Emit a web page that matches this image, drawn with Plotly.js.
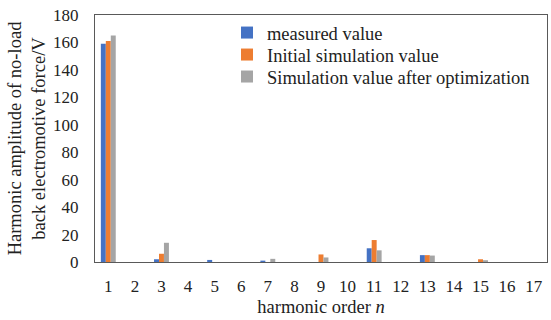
<!DOCTYPE html>
<html>
<head>
<meta charset="utf-8">
<script src="https://cdn.plot.ly/plotly-3.0.1.min.js"></script>
<style>html,body{margin:0;padding:0;background:#fff;}#chart{width:551px;height:320px;}</style>
</head>
<body>
<div id="chart"></div>
<script>
const harmonicOrders = ['1','2','3','4','5','6','7','8','9','10','11','12','13','14','15','16','17'];
const measuredValue = [159, 0, 2, 0, 1.5, 0, 1, 0, 0, 0, 10, 0, 5, 0, 0, 0, 0];
const initialSimulation = [161, 0, 6, 0, 0, 0, 0, 0, 5.5, 0, 16, 0, 5, 0, 2, 0, 0];
const optimizedSimulation = [165, 0, 14, 0, 0, 0, 2.3, 0, 3.3, 0, 8.5, 0, 4.7, 0, 1.3, 0, 0];
const yTicks = [0, 20, 40, 60, 80, 100, 120, 140, 160, 180];

const fam = '"Liberation Serif", "Times New Roman", serif';
const f = (s) => ({family: fam, size: s, color: '#222'});

const traces = [
  {type: 'bar', name: 'measured value', x: harmonicOrders, y: measuredValue, marker: {color: '#4472C4'}, legend: 'legend'},
  {type: 'bar', name: 'Initial simulation value', x: harmonicOrders, y: initialSimulation, marker: {color: '#ED7D31'}, legend: 'legend2'},
  {type: 'bar', name: 'Simulation value after optimization', x: harmonicOrders, y: optimizedSimulation, marker: {color: '#A5A5A5'}, legend: 'legend3'}
];

const lg = (y) => ({x: 0.292, y: y, xanchor: 'left', yanchor: 'middle', bgcolor: 'rgba(0,0,0,0)', font: f(18.5)});

const layout = {
  width: 551, height: 320,
  margin: {l: 95, r: 4, t: 15, b: 58},
  paper_bgcolor: '#fff', plot_bgcolor: '#fff',
  font: f(17),
  barmode: 'group', bargap: 0.44, bargroupgap: 0,
  showlegend: true,
  legend: lg(0.927), legend2: lg(0.838), legend3: lg(0.749),
  xaxis: {
    type: 'category', showline: true, mirror: true, linecolor: '#595959', linewidth: 1,
    ticks: '', showgrid: false, tickfont: f(17), ticklabelstandoff: 9,
    title: {text: 'harmonic order <i>n</i>', font: f(18.5), standoff: 4}
  },
  yaxis: {
    range: [0, 180], tickvals: yTicks, showline: true, mirror: true, linecolor: '#595959', linewidth: 1,
    ticks: '', showgrid: false, zeroline: false, tickfont: f(17), ticklabelstandoff: 12,
    title: {text: 'Harmonic amplitude of no-load<br>back electromotive force/V', font: f(18.5), standoff: 2}
  }
};

Plotly.newPlot('chart', traces, layout, {displayModeBar: false, staticPlot: true});
</script>
</body>
</html>
